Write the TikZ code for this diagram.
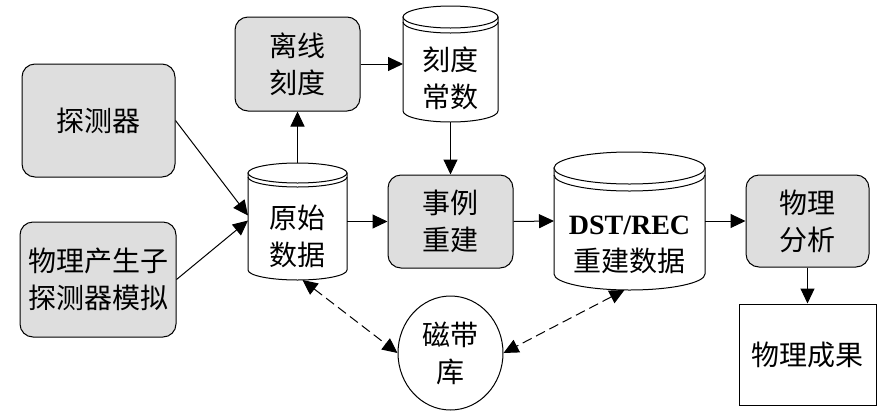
\documentclass[tikz,border=0pt]{standalone}
\usepackage{fontspec}
\setmainfont{Liberation Serif}
\newfontfamily\cjk{Noto Sans CJK SC}
\usetikzlibrary{arrows.meta,shapes.geometric}
\definecolor{boxgray}{RGB}{222,222,222}
\newcommand\mycyl[6]{%
  \pgfmathsetmacro\cxa{(#1+#2)/2}%
  \pgfmathsetmacro\rxa{(#2-#1)/2}%
  \pgfmathsetmacro\cta{#3+#5}%
  \pgfmathsetmacro\cba{#4-#5}%
  \pgfmathsetmacro\kxa{0.5523*\rxa}%
  \pgfmathsetmacro\kya{0.5523*#5}%
  \pgfmathsetmacro\csa{\cta+#6}%
  \draw[cylline,fill=white] (#1,\cta) -- (#1,\cba) .. controls (#1,\cba+\kya) and (\cxa-\kxa,#4) .. (\cxa,#4) .. controls (\cxa+\kxa,#4) and (#2,\cba+\kya) .. (#2,\cba) -- (#2,\cta) -- cycle;
  \draw[cylline,fill=white] (\cxa,\cta) ellipse[x radius=\rxa, y radius=#5];
  \draw[cylline] (#1,\csa) .. controls (#1,\csa+\kya) and (\cxa-\kxa,\csa+#5) .. (\cxa,\csa+#5) .. controls (\cxa+\kxa,\csa+#5) and (#2,\csa+\kya) .. (#2,\csa);
}
\begin{document}
\begin{tikzpicture}[x=1pt,y=-1pt,
  txt/.style={font=\cjk\fontsize{28}{37}\selectfont, align=center, inner sep=1pt},
  box/.style={draw, line width=1pt, fill=boxgray, rounded corners=13pt, txt},
  arr/.style={-{Triangle[length=15pt,width=14pt]}, line width=1pt},
  darr/.style={{Triangle[length=15pt,width=14pt]}-{Triangle[length=15pt,width=14pt]}, line width=1pt, dash pattern=on 10pt off 5pt},
  cylline/.style={line width=1pt},
  hold/.style={inner sep=0pt, outer sep=0pt}]
\useasboundingbox (0,0) rectangle (891,413);

\node[box, minimum width=153pt, minimum height=113pt] (det) at (98.5,120.5) {探测器};
\node[box, minimum width=156pt, minimum height=115pt] (sim) at (98,279.5) {物理产生子\\探测器模拟};
\node[box, minimum width=125pt, minimum height=94pt] (cal) at (297.5,64) {离线\\刻度};
\node[box, minimum width=125pt, minimum height=93pt] (rec) at (450.5,221.5) {事例\\重建};
\node[box, minimum width=123pt, minimum height=92pt] (ana) at (807.5,221) {物理\\分析};
\node[draw, line width=1pt, fill=white, txt, minimum width=137pt, minimum height=101pt] (res) at (807.5,354.5) {物理成果};
\node[draw, ellipse, line width=1pt, fill=white, txt, minimum width=105pt, minimum height=114pt] (tape) at (450.5,353) {磁带\\库};

\mycyl{403}{498}{6}{122}{11}{5}
\node[hold, minimum width=95pt, minimum height=116pt] (const) at (450.5,64) {};
\node[txt] (constt) at (450.5,78) {刻度\\常数};

\mycyl{248}{347}{163}{280}{10}{4}
\node[hold, minimum width=99pt, minimum height=117pt] (raw) at (297.5,221.5) {};
\node[txt] (rawt) at (297.5,236) {原始\\数据};

\mycyl{554}{705}{152}{290}{16}{7}
\node[hold, minimum width=151pt, minimum height=138pt] (dst) at (629.5,221) {};
\node[txt] (dstt) at (629.5,245) {{\rmfamily\bfseries DST/REC}\\重建数据};

\draw[arr] (det.east) -- ([yshift=6pt]raw.west);
\draw[arr] (sim.east) -- ([yshift=1pt]raw.west);
\draw[arr] (raw.north) -- (cal.south);
\draw[arr] (cal.east) -- (const.west);
\draw[arr] (const.south) -- (rec.north);
\draw[arr] (raw.east) -- (rec.west);
\draw[arr] (rec.east) -- (dst.west);
\draw[arr] (dst.east) -- (ana.west);
\draw[arr] (ana.south) -- (res.north);
\draw[darr] ([xshift=5pt]raw.south) -- (tape.west);
\draw[darr] ([xshift=-5pt]dst.south) -- (tape.east);
\end{tikzpicture}
\end{document}
